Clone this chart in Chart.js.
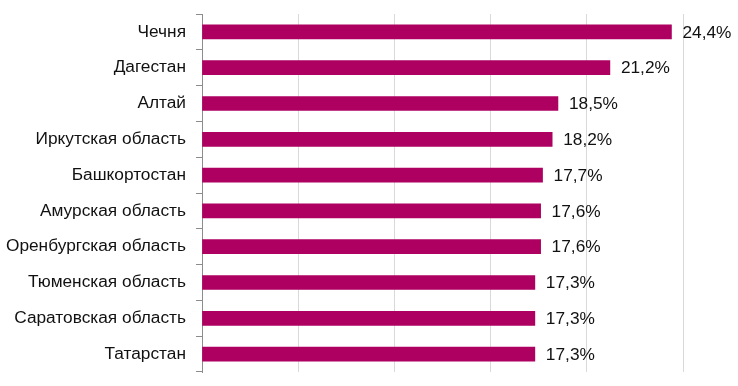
<!DOCTYPE html>
<html>
<head>
<meta charset="utf-8">
<script src="https://cdn.jsdelivr.net/npm/chart.js@4"></script>
<style>
  html, body { margin: 0; padding: 0; background: #fff; }
  #wrap { width: 738px; height: 386px; }
</style>
</head>
<body>
<div id="wrap"><canvas id="regions"></canvas></div>
<script>
var regions = ["Чечня", "Дагестан", "Алтай", "Иркутская область", "Башкортостан",
    "Амурская область", "Оренбургская область", "Тюменская область", "Саратовская область", "Татарстан"];
var shares = [24.4, 21.2, 18.5, 18.2, 17.7, 17.6, 17.6, 17.3, 17.3, 17.3];

var FONT = "'Liberation Sans', Arial, sans-serif";
var FONT_SIZE = 17.3;

// value labels at the end of each bar
var barLabels = {
    id: "barLabels",
    afterDatasetsDraw: function (chart) {
        var ctx = chart.ctx;
        var meta = chart.getDatasetMeta(0);
        ctx.save();
        ctx.font = FONT_SIZE + "px " + FONT;
        ctx.fillStyle = "#111111";
        ctx.textAlign = "left";
        ctx.textBaseline = "middle";
        meta.data.forEach(function (bar, i) {
            var txt = shares[i].toFixed(1).replace(".", ",") + "%";
            ctx.fillText(txt, bar.x + 11, bar.y + 1);
        });
        ctx.restore();
    },
};

var ctx = document.getElementById("regions").getContext("2d");
var myChart = new Chart(ctx, {
    type: "bar",
    data: {
        labels: regions,
        datasets: [
            {
                data: shares,
                backgroundColor: "#ad0060",
                borderWidth: 0,
                barThickness: 14,
            },
        ],
    },
    options: {
        indexAxis: "y",
        responsive: true,
        maintainAspectRatio: false,
        animation: false,
        layout: { padding: { top: 14, right: 55, bottom: 0, left: 0 } },
        plugins: {
            legend: { display: false },
            tooltip: { enabled: false },
        },
        scales: {
            x: {
                min: 0,
                max: 25,
                ticks: { display: false, stepSize: 5 },
                grid: { color: "#d9d9d9", drawTicks: false },
                border: { display: false },
                afterFit: function (s) {
                    s.height = 14;
                    s.paddingLeft = 0;
                    s.paddingRight = 0;
                },
            },
            y: {
                ticks: {
                    color: "#111111",
                    padding: 10,
                    font: { family: FONT, size: FONT_SIZE },
                },
                grid: {
                    drawOnChartArea: false,
                    color: "#8c8c8c",
                    tickLength: 6,
                },
                border: { color: "#8c8c8c" },
                afterFit: function (s) {
                    s.width = 202;
                    s.paddingTop = 0;
                    s.paddingBottom = 0;
                },
            },
        },
    },
    plugins: [barLabels],
});
</script>
</body>
</html>
